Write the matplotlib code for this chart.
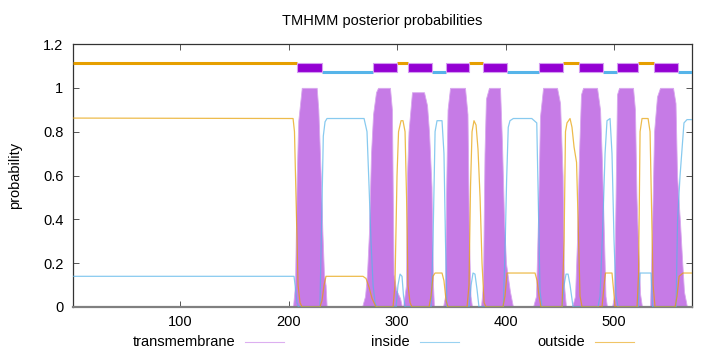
import matplotlib
matplotlib.use("Agg")
import matplotlib.pyplot as plt
from matplotlib.lines import Line2D

plt.rcParams['font.family'] = ['Liberation Sans', 'DejaVu Sans']

# residue breakpoints of the posterior curves
tm_pos = [1, 203.9, 205.8, 207.4, 208.8, 212, 225.8, 227.3, 229.5, 231, 232.5, 234, 235,
          267.6, 270.4, 272.2, 274.1, 275.9, 277.8, 280.5, 282.4, 293.4, 295.2, 296.7, 299, 302.7, 304.5,
          305.4, 308.2, 309.1, 310.5, 313.7, 324.8, 327.6, 329.4, 331.7, 333.1, 334,
          342.3, 344.2, 345.1, 346.5, 348.8, 362.6, 364.9, 366.3, 367.7, 369.1,
          377.3, 379.2, 380.6, 381.9, 384.7, 394.9, 396.7, 398.6, 400.4, 404.1, 406.9,
          425.3, 428.1, 429.9, 431.8, 434.6, 447.5, 450.3, 452.6, 453.9, 455.8,
          461.3, 464.1, 465.9, 467.8, 469.6, 471.5, 484.4, 487.2, 489, 490.9, 492.2, 493.6,
          498.2, 500.1, 501.5, 502.8, 504.7, 517.6, 519.4, 520.8, 522.2, 524.1, 525.9,
          533.3, 535.1, 537, 539.7, 542.5, 554.5, 556.8, 558.2, 561, 562.8, 564.6, 567.4, 572]
tm_prob = [0, 0, 0.1, 0.6, 0.85, 1.0, 1.0, 0.9, 0.6, 0.35, 0.15, 0.1, 0,
           0, 0.05, 0.15, 0.35, 0.7, 0.88, 0.98, 1.0, 1.0, 0.9, 0.15, 0.08, 0.04, 0,
           0, 0.1, 0.6, 0.8, 0.98, 0.98, 0.92, 0.8, 0.55, 0.1, 0,
           0, 0.05, 0.5, 0.9, 1.0, 1.0, 0.88, 0.3, 0.05, 0,
           0, 0.1, 0.7, 0.95, 1.0, 1.0, 0.75, 0.4, 0.2, 0.07, 0,
           0, 0.05, 0.4, 0.87, 1.0, 1.0, 0.93, 0.6, 0.1, 0,
           0, 0.05, 0.3, 0.7, 0.97, 1.0, 1.0, 0.9, 0.65, 0.3, 0.05, 0,
           0, 0.05, 0.5, 0.97, 1.0, 1.0, 0.9, 0.5, 0.3, 0.06, 0,
           0, 0.35, 0.8, 0.96, 1.0, 1.0, 0.93, 0.6, 0.38, 0.22, 0.07, 0, 0]

in_pos = [1, 204.9, 206.3, 207.6, 209, 228.8, 230.4, 231.9, 233.5, 235.3, 269.5, 272.2, 274.1, 275.9,
          277.8, 279.6, 281.4, 299, 300.8, 302.7, 304.5, 305.9, 307.3,
          331.3, 333.1, 335, 336.8, 341.4, 343.2, 344.6, 346,
          366.3, 368.2, 370, 371.8, 373.7, 375.5,
          397.9, 399.5, 401, 402.5, 404.1, 407.2, 424.2, 428.8, 430.3, 431.8, 433.7,
          452.1, 454, 455.8, 457.7, 459.5, 462.3,
          485.3, 487.2, 489.9, 491.8, 493.6, 496.4, 498.2, 500.1, 501.9, 503.8,
          522.2, 524.1, 534.2, 535.6,
          557.3, 558.7, 561, 562.8, 564.6, 567.4, 572]
in_prob = [0.14, 0.14, 0.08, 0.02, 0, 0, 0.4, 0.78, 0.845, 0.86, 0.86, 0.8, 0.55, 0.3,
           0.1, 0.02, 0, 0, 0.1, 0.15, 0.14, 0.05, 0,
           0, 0.3, 0.8, 0.85, 0.85, 0.7, 0.3, 0,
           0, 0.1, 0.155, 0.15, 0.08, 0,
           0, 0.25, 0.58, 0.82, 0.85, 0.86, 0.86, 0.84, 0.46, 0.07, 0,
           0, 0.1, 0.15, 0.15, 0.1, 0,
           0, 0.05, 0.4, 0.7, 0.85, 0.86, 0.7, 0.3, 0.05, 0,
           0, 0.155, 0.155, 0,
           0, 0.4, 0.6, 0.72, 0.84, 0.855, 0.855]

out_pos = [1, 204, 205.3, 207.2, 208.6, 210.4, 212.3, 228.8, 230.7, 232.6, 234.4, 268.5, 271.3, 274.1,
           276.8, 280.5,
           296.2, 298, 299.9, 301.3, 303.6, 305.4, 307.3, 308.7, 310, 311.9, 313.7,
           329.4, 331.3, 333.1, 335, 341.4, 343.2, 345.1, 346.9,
           364.5, 366.3, 367.7, 369.1, 370.9, 372.8, 374.6, 376.5, 378.3, 380.2, 382,
           397.6, 399.5, 401.4, 427.2, 429.1, 430.9, 432.7,
           452.1, 454, 455.3, 456.7, 459.5, 461.3, 463.2, 465.5, 466.9, 468.7, 470.6,
           489, 490.9, 492.2, 498.2, 499.6, 501,
           521.3, 522.7, 524.1, 525.9, 531.5, 533.3, 534.7, 536.1, 537.9,
           556.4, 558.2, 560.1, 563.7, 572]
out_prob = [0.862, 0.86, 0.8, 0.4, 0.1, 0.02, 0, 0, 0.03, 0.1, 0.14, 0.14, 0.13, 0.09,
            0.04, 0,
            0, 0.1, 0.6, 0.8, 0.85, 0.85, 0.8, 0.5, 0.1, 0.02, 0,
            0, 0.05, 0.14, 0.155, 0.155, 0.12, 0.03, 0,
            0, 0.1, 0.55, 0.8, 0.85, 0.83, 0.72, 0.5, 0.2, 0.02, 0,
            0, 0.05, 0.155, 0.155, 0.12, 0.05, 0,
            0, 0.3, 0.8, 0.84, 0.86, 0.82, 0.73, 0.66, 0.4, 0.05, 0,
            0, 0.1, 0.155, 0.155, 0.08, 0,
            0, 0.15, 0.8, 0.86, 0.86, 0.8, 0.45, 0.1, 0,
            0, 0.05, 0.14, 0.155, 0.155]

# predicted topology
tm_start = [207.5, 277.5, 310, 345, 379, 431, 468, 503, 537]
tm_end = [230.5, 300, 332, 366, 401, 453, 490, 522, 559]
in_start = [230.5, 332, 401, 490, 559]
in_end = [277.5, 345, 431, 503, 572]
out_start = [1, 300, 366, 453, 522]
out_end = [207.5, 310, 379, 468, 537]

xticks = [100, 200, 300, 400, 500]
yticks = [0, 0.2, 0.4, 0.6, 0.8, 1, 1.2]
ytick_labels = ["0", "0.2", "0.4", "0.6", "0.8", "1", "1.2"]

c_tm = '#c67be6'
c_in = '#56b4e9'
c_out = '#e69f00'

fig = plt.figure(figsize=(7.2, 3.52), dpi=100)
ax = fig.add_axes([73/720, 45/352, 619/720, 263/352])

ax.fill_between(tm_pos, 0, tm_prob, color=c_tm, lw=0.6, edgecolor='#d8a8ee', zorder=2)
ax.plot(in_pos, in_prob, color=c_in, lw=0.9, alpha=0.7, zorder=3)
ax.plot(out_pos, out_prob, color=c_out, lw=0.9, alpha=0.7, zorder=3)

# topology bars on top
ax.hlines([1.112] * len(out_start), out_start, out_end, color=c_out, lw=2.2, zorder=4)
ax.hlines([1.074] * len(in_start), in_start, in_end, color=c_in, lw=2.2, zorder=4)
ax.broken_barh([(s, e - s) for s, e in zip(tm_start, tm_end)], (1.071, 0.043),
               facecolor='#9400d3', edgecolor='#d49cf2', lw=0.8, zorder=5)

ax.set_xlim(1, 572)
ax.set_ylim(0, 1.2)
ax.set_xticks(xticks)
ax.set_yticks(yticks)
ax.set_yticklabels(ytick_labels)
ax.tick_params(direction='in', top=True, right=True, length=4, width=0.7,
               labelsize=10.5, color='#555555')
ax.tick_params(axis='x', pad=6)
ax.tick_params(axis='y', pad=7)
for s in ['top', 'left', 'right']:
    ax.spines[s].set_linewidth(0.9)
    ax.spines[s].set_color('#333333')
ax.spines['bottom'].set_linewidth(1.6)
ax.spines['bottom'].set_color('#808080')

fig.text(382/720, 1 - 21/352, "TMHMM posterior probabilities", ha='center', va='center', fontsize=10.5)
fig.text(15/720, 1 - 175/352, "probability", rotation=90, ha='center', va='center', fontsize=10.5)

# key below the plot, text left of the sample line
key_y = 1 - 342/352
key = [("transmembrane", 235, c_tm), ("inside", 410, c_in), ("outside", 585, c_out)]
for label, xr, col in key:
    fig.text(xr/720, key_y, label, ha='right', va='center', fontsize=10.5)
    fig.add_artist(Line2D([(xr + 10)/720, (xr + 49)/720], [key_y, key_y], color=col, lw=0.8, alpha=0.6))

fig.savefig("out.png", dpi=100)
